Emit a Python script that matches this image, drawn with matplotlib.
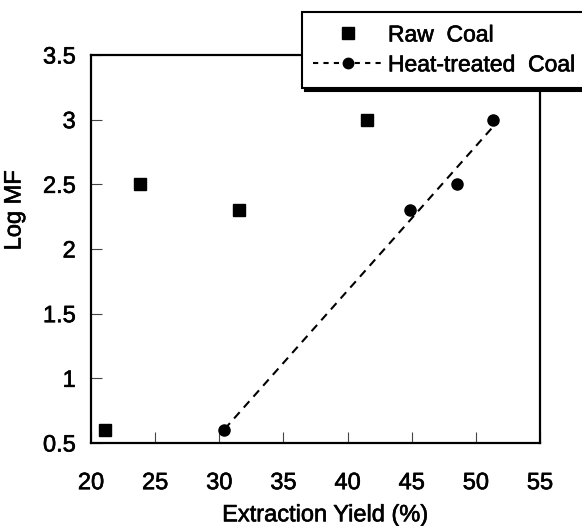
import numpy as np
import matplotlib
matplotlib.use("Agg")
import matplotlib.pyplot as plt
import matplotlib.patheffects as pe
from matplotlib.lines import Line2D

plt.rcParams['font.family'] = ['Liberation Sans', 'DejaVu Sans']

# Data
raw_x = [21.1, 23.8, 31.5, 41.5]
raw_y = [0.6, 2.5, 2.3, 3.0]
heat_x = [30.4, 44.9, 48.5, 51.3]
heat_y = [0.6, 2.3, 2.5, 3.0]

x_ticks = [20, 25, 30, 35, 40, 45, 50, 55]
x_tick_labels = ["20", "25", "30", "35", "40", "45", "50", "55"]
y_ticks = [0.5, 1, 1.5, 2, 2.5, 3, 3.5]
y_tick_labels = ["0.5", "1", "1.5", "2", "2.5", "3", "3.5"]

labels = ["Raw  Coal", "Heat-treated  Coal"]

W, H = 582, 526
fig = plt.figure(figsize=(W / 100, H / 100), dpi=100)
ax = fig.add_axes([91 / W, 1 - 443 / H, (540 - 91) / W, (443 - 55) / H])

ax.plot(raw_x, raw_y, ls='none', marker='s', ms=8.6, color='black', zorder=3)
ax.plot(heat_x, heat_y, ls='none', marker='o', ms=8, color='black', zorder=3)

# Linear fit through heat-treated coal points
coef = np.polyfit(heat_x, heat_y, 1)
fx = np.array([min(heat_x), max(heat_x)])
ax.plot(fx, np.polyval(coef, fx), ls=(0, (4, 3)), lw=1.5, color='black', zorder=2)

ax.set_xlim(20, 55)
ax.set_ylim(0.5, 3.5)
ax.set_xticks(x_ticks)
ax.set_xticklabels(x_tick_labels)
ax.set_yticks(y_ticks)
ax.set_yticklabels(y_tick_labels)

fs = 17
ax.tick_params(axis='x', direction='in', length=8, width=0.8, color='#444444',
               labelsize=fs, pad=21, top=False)
ax.tick_params(axis='y', direction='in', length=8, width=0.8, color='#444444',
               labelsize=fs, pad=11, right=False)
for s in ax.spines.values():
    s.set_linewidth(1.6)
    s.set_color('black')

thick = [pe.withStroke(linewidth=0.45, foreground='black')]
for t in ax.get_xticklabels() + ax.get_yticklabels():
    t.set_path_effects(thick)

ax.set_xlabel("Extraction Yield (%)", fontsize=fs, path_effects=thick)
ax.xaxis.set_label_coords(0.523, -0.158)
ax.set_ylabel("Log MF", fontsize=fs, path_effects=thick)
ax.yaxis.set_label_coords(-0.146, 0.6)

handles = [
    Line2D([], [], ls='none', marker='s', ms=8, color='black'),
    Line2D([], [], ls=(0, (2.5, 2.5)), lw=1.5, marker='o', ms=7.5, color='black'),
]
leg = fig.legend(handles, labels, loc='upper left',
                 bbox_to_anchor=(302 / W, 1 - 12 / H), bbox_transform=fig.transFigure,
                 frameon=True, fancybox=False, edgecolor='black', facecolor='white',
                 framealpha=1, borderpad=0.5, labelspacing=0.3, handlelength=3.0,
                 handletextpad=0.25, borderaxespad=0, fontsize=16.5,
                 shadow={'color': 'black', 'alpha': 1})
leg.get_frame().set_linewidth(1.5)
for t in leg.get_texts():
    t.set_path_effects(thick)

fig.savefig("out.png", dpi=100)
